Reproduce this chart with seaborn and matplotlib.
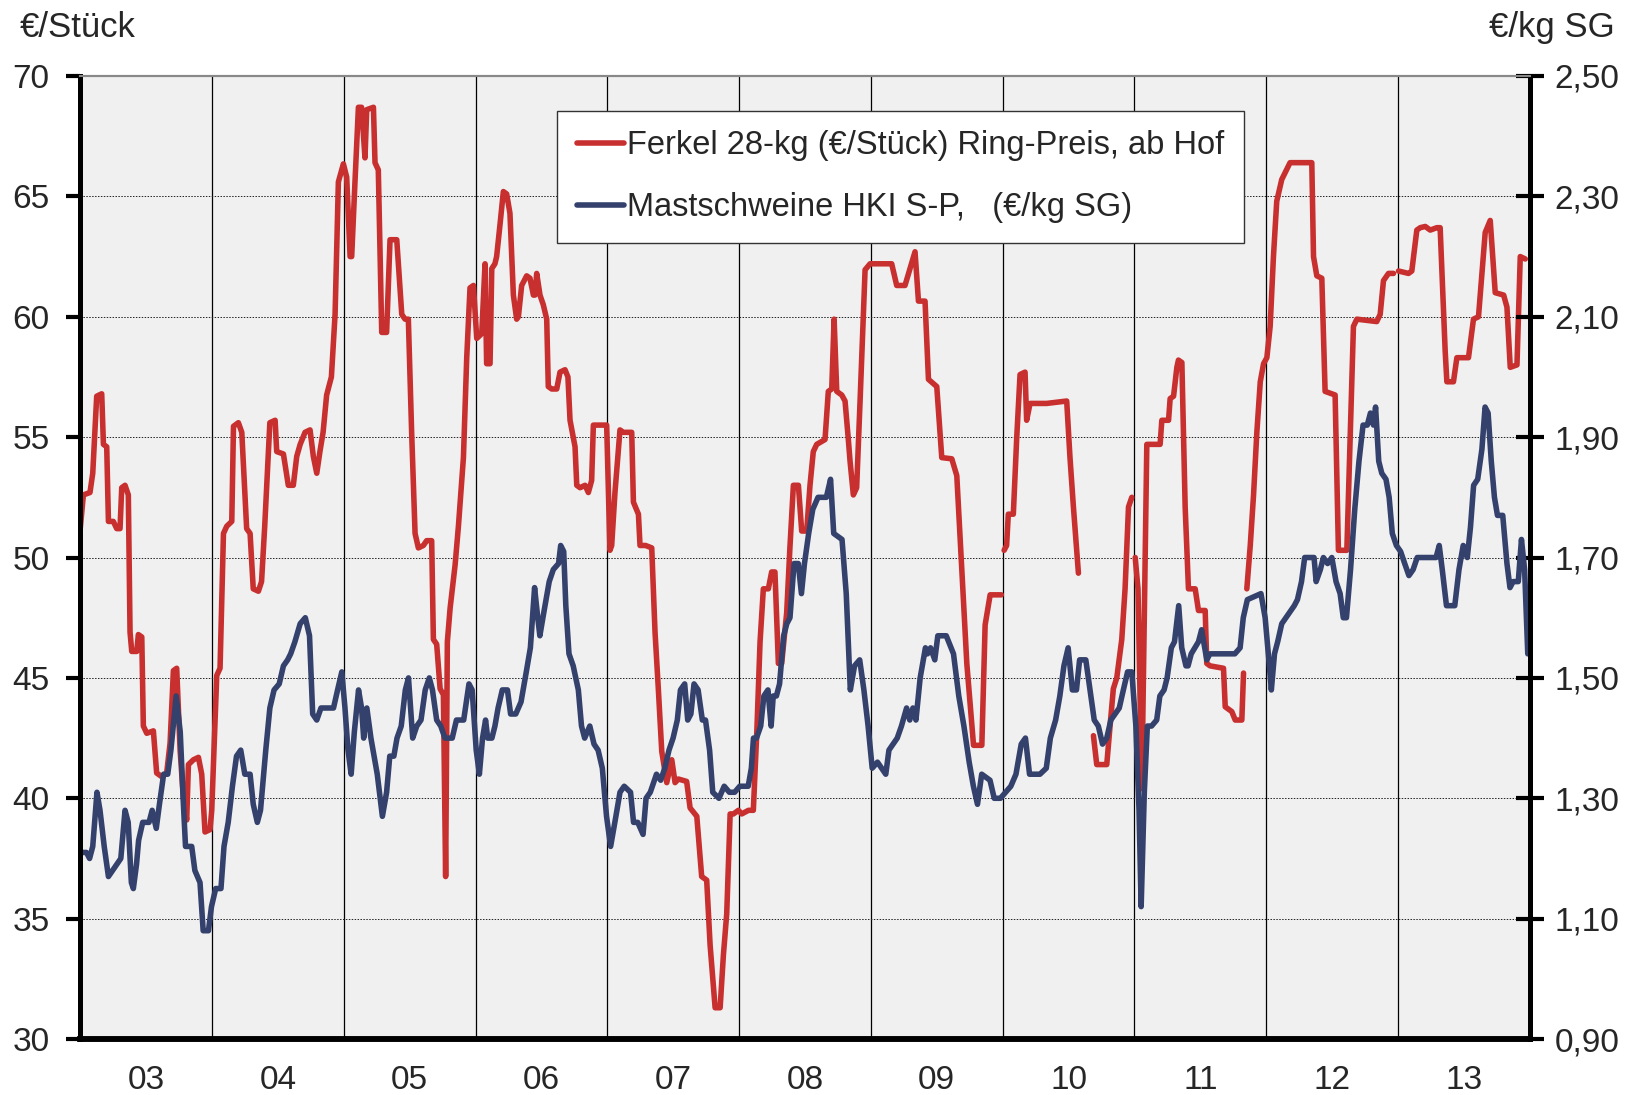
# -*- coding: utf-8 -*-
import numpy as np
import pandas as pd
import matplotlib
matplotlib.use("Agg")
import matplotlib.pyplot as plt
from matplotlib.ticker import FixedLocator, FuncFormatter
import seaborn as sns

sns.set_style("white")
plt.rcParams['font.family'] = ['Liberation Sans', 'DejaVu Sans']

START_JAHR = 2003
jahr_labels = ['03', '04', '05', '06', '07', '08', '09', '10', '11', '12', '13']
links_ticks = [30, 35, 40, 45, 50, 55, 60, 65, 70]
rechts_ticks = [0.9, 1.1, 1.3, 1.5, 1.7, 1.9, 2.1, 2.3, 2.5]

label_ferkel = 'Ferkel 28-kg (€/Stück) Ring-Preis, ab Hof'
label_mast = 'Mastschweine HKI S-P,   (€/kg SG)'

# Ferkel (€/Stück), Zeit in Jahren ab Anfang 2003, NaN = Lücke in der Linie
ferkel_t = [
    0.000, 0.024, 0.074, 0.095, 0.125, 0.163, 0.176, 0.201, 0.214, 0.251,
    0.277, 0.302, 0.315, 0.340, 0.365, 0.378, 0.391, 0.429, 0.441, 0.467,
    0.479, 0.505, 0.555, 0.580, 0.618, 0.656, 0.682, 0.707, 0.732, 0.758,
    0.783, 0.808, 0.821, 0.859, 0.897, 0.922, 0.947, 0.985, 0.998, 1.036,
    1.061, 1.087, 1.112, 1.150, 1.163, 1.200, 1.226, 1.263, 1.289, 1.313,
    1.352, 1.376, 1.400, 1.439, 1.479, 1.491, 1.542, 1.579, 1.617, 1.643,
    1.669, 1.706, 1.744, 1.769, 1.795, 1.819, 1.843, 1.870, 1.906, 1.934,
    1.959, 1.997, 2.022, 2.048, 2.060, 2.085, 2.111, 2.135, 2.161, 2.174,
    2.225, 2.237, 2.262, 2.288, 2.325, 2.351, 2.402, 2.440, 2.465, 2.490,
    2.515, 2.541, 2.566, 2.604, 2.629, 2.667, 2.680, 2.705, 2.731, 2.756,
    2.773, 2.786, 2.807, 2.845, 2.870, 2.908, 2.933, 2.958, 2.984, 3.009,
    3.047, 3.072, 3.084, 3.110, 3.123, 3.147, 3.160, 3.185, 3.211, 3.236,
    3.261, 3.287, 3.312, 3.325, 3.350, 3.388, 3.413, 3.439, 3.451, 3.464,
    3.489, 3.514, 3.540, 3.552, 3.578, 3.616, 3.641, 3.679, 3.701, 3.717,
    3.755, 3.768, 3.793, 3.831, 3.856, 3.881, 3.894, 3.970, 3.995, 4.020,
    4.033, 4.058, 4.096, 4.121, 4.185, 4.198, 4.236, 4.248, 4.290, 4.337,
    4.362, 4.387, 4.413, 4.451, 4.489, 4.514, 4.539, 4.602, 4.628, 4.679,
    4.716, 4.754, 4.780, 4.818, 4.856, 4.881, 4.906, 4.932, 4.957, 4.995,
    5.020, 5.071, 5.108, 5.134, 5.159, 5.184, 5.222, 5.247, 5.272, 5.298,
    5.323, 5.361, 5.386, 5.412, 5.450, 5.475, 5.513, 5.538, 5.563, 5.589,
    5.652, 5.677, 5.703, 5.721, 5.741, 5.779, 5.804, 5.829, 5.842, 5.867,
    5.892, 5.918, 5.956, 5.994, 6.158, 6.196, 6.259, 6.297, 6.335, 6.361,
    6.411, 6.437, 6.500, 6.538, 6.614, 6.652, 6.690, 6.728, 6.779, 6.842,
    6.867, 6.905, 6.990, np.nan,
    7.011, 7.030, 7.043, 7.081, 7.107, 7.132, 7.170, 7.182, 7.208, 7.334,
    7.486, 7.511, 7.537, 7.575, np.nan,
    7.689, 7.714, 7.790, 7.815, 7.840, 7.866, 7.904, 7.929, 7.955, 7.980,
    np.nan,
    8.006, 8.027, 8.056, 8.094, 8.195, 8.208, 8.259, 8.271, 8.297, 8.322,
    8.334, 8.360, 8.385, 8.410, 8.461, 8.486, 8.537, 8.549, 8.574, 8.676,
    8.689, 8.739, 8.765, 8.815, 8.828, np.nan,
    8.853, 8.879, 8.904, 8.929, 8.955, 8.980, 9.005, 9.030, 9.055, 9.080,
    9.118, 9.181, 9.346, 9.359, 9.384, 9.422, 9.447, 9.523, 9.548, 9.612,
    9.662, 9.688, 9.839, 9.865, 9.890, 9.928, 9.966, np.nan,
    10.004, 10.080, 10.105, 10.143, 10.169, 10.207, 10.245, 10.295, 10.320, 10.358,
    10.371, 10.421, 10.447, 10.535, 10.573, 10.611, 10.662, 10.700, 10.738, 10.802,
    10.827, 10.852, 10.903, 10.928, 10.966,
]
ferkel_preis = [
    51.2, 52.6, 52.7, 53.5, 56.7, 56.8, 54.7, 54.6, 51.5, 51.5,
    51.2, 51.2, 52.9, 53.0, 52.6, 46.9, 46.1, 46.1, 46.8, 46.7,
    43.0, 42.7, 42.8, 41.05, 40.9, 41.05, 42.3, 45.3, 45.4, 42.0,
    40.0, 39.1, 41.4, 41.6, 41.7, 41.0, 38.6, 38.7, 39.5, 45.1,
    45.4, 51.0, 51.3, 51.5, 55.45, 55.6, 55.2, 51.2, 51.0, 48.7,
    48.6, 49.0, 51.3, 55.6, 55.7, 54.4, 54.3, 53.0, 53.0, 54.2,
    54.7, 55.2, 55.3, 54.2, 53.5, 54.4, 55.2, 56.75, 57.5, 60.1,
    65.6, 66.35, 65.8, 62.5, 62.5, 65.6, 68.7, 68.7, 66.6, 68.6,
    68.7, 66.4, 66.1, 59.35, 59.35, 63.2, 63.2, 60.1, 59.9, 59.9,
    55.2, 51.0, 50.4, 50.5, 50.7, 50.7, 46.6, 46.4, 44.55, 44.3,
    36.75, 46.5, 47.9, 49.7, 51.3, 54.15, 58.3, 61.2, 61.3, 59.1,
    59.3, 62.2, 58.05, 58.05, 62.0, 62.2, 62.5, 63.8, 65.2, 65.1,
    64.3, 60.9, 59.9, 60.0, 61.3, 61.7, 61.6, 60.9, 60.9, 61.8,
    60.9, 60.5, 59.9, 57.1, 57.0, 57.0, 57.7, 57.8, 57.5, 55.7,
    54.6, 53.0, 52.9, 53.0, 52.7, 53.2, 55.5, 55.5, 55.5, 50.3,
    50.5, 52.7, 55.3, 55.2, 55.2, 52.3, 51.8, 50.5, 50.5, 50.4,
    46.9, 44.55, 41.95, 40.65, 41.6, 40.65, 40.8, 40.7, 39.6, 39.25,
    36.75, 36.6, 33.9, 31.3, 31.3, 33.5, 35.2, 39.35, 39.35, 39.5,
    39.35, 39.5, 39.5, 42.7, 46.5, 48.7, 48.7, 49.4, 49.4, 45.6,
    45.6, 47.7, 50.45, 53.0, 53.0, 51.1, 51.1, 53.0, 54.4, 54.7,
    54.9, 56.9, 57.0, 59.9, 56.9, 56.75, 56.5, 54.9, 54.0, 52.6,
    52.9, 56.5, 61.95, 62.2, 62.2, 61.3, 61.3, 62.0, 62.7, 60.65,
    60.65, 57.4, 57.1, 54.15, 54.1, 53.4, 49.5, 45.6, 42.2, 42.2,
    47.2, 48.45, 48.45, np.nan,
    50.3, 50.5, 51.8, 51.8, 55.0, 57.6, 57.7, 55.7, 56.4, 56.4,
    56.5, 54.15, 52.1, 49.35, np.nan,
    42.6, 41.4, 41.4, 43.0, 44.55, 45.0, 46.6, 48.7, 52.1, 52.5,
    np.nan,
    50.0, 48.7, 40.4, 54.7, 54.7, 55.7, 55.7, 56.6, 56.7, 57.9,
    58.2, 58.1, 52.1, 48.7, 48.7, 47.8, 47.8, 45.6, 45.5, 45.4,
    43.8, 43.6, 43.25, 43.25, 45.2, np.nan,
    48.7, 50.5, 52.6, 55.2, 57.3, 58.05, 58.3, 59.6, 62.5, 64.8,
    65.7, 66.4, 66.4, 62.5, 61.7, 61.6, 56.9, 56.75, 50.3, 50.3,
    59.6, 59.9, 59.8, 60.1, 61.5, 61.8, 61.8, np.nan,
    61.9, 61.8, 61.9, 63.6, 63.7, 63.75, 63.6, 63.7, 63.7, 58.6,
    57.3, 57.3, 58.3, 58.3, 59.9, 60.0, 63.5, 64.0, 61.0, 60.9,
    60.4, 57.9, 58.0, 62.5, 62.4,
]

# Mastschweine (€/kg SG)
mast_t = [
    0.000, 0.047, 0.071, 0.095, 0.127, 0.150, 0.182, 0.214, 0.245, 0.277,
    0.308, 0.340, 0.364, 0.388, 0.403, 0.427, 0.443, 0.474, 0.522, 0.546,
    0.577, 0.601, 0.633, 0.664, 0.688, 0.728, 0.759, 0.783, 0.799, 0.846,
    0.870, 0.909, 0.933, 0.973, 0.996, 1.028, 1.068, 1.091, 1.123, 1.155,
    1.186, 1.218, 1.249, 1.289, 1.313, 1.344, 1.368, 1.408, 1.439, 1.471,
    1.510, 1.542, 1.574, 1.597, 1.629, 1.669, 1.708, 1.740, 1.764, 1.795,
    1.827, 1.922, 1.953, 1.985, 2.009, 2.032, 2.056, 2.080, 2.112, 2.135,
    2.151, 2.175, 2.206, 2.254, 2.293, 2.325, 2.349, 2.380, 2.404, 2.436,
    2.467, 2.491, 2.523, 2.554, 2.586, 2.618, 2.649, 2.673, 2.705, 2.736,
    2.768, 2.792, 2.823, 2.855, 2.910, 2.950, 2.974, 3.005, 3.029, 3.053,
    3.076, 3.092, 3.124, 3.147, 3.171, 3.203, 3.242, 3.266, 3.305, 3.345,
    3.385, 3.416, 3.448, 3.472, 3.488, 3.519, 3.559, 3.590, 3.630, 3.646,
    3.669, 3.685, 3.709, 3.741, 3.780, 3.804, 3.828, 3.867, 3.899, 3.930,
    3.962, 3.994, 4.025, 4.065, 4.096, 4.128, 4.176, 4.199, 4.231, 4.271,
    4.294, 4.326, 4.373, 4.405, 4.436, 4.468, 4.499, 4.531, 4.555, 4.587,
    4.610, 4.634, 4.658, 4.689, 4.721, 4.745, 4.776, 4.800, 4.847, 4.887,
    4.926, 4.966, 5.005, 5.069, 5.093, 5.109, 5.132, 5.164, 5.188, 5.219,
    5.243, 5.259, 5.283, 5.307, 5.338, 5.362, 5.386, 5.417, 5.449, 5.473,
    5.496, 5.528, 5.559, 5.599, 5.662, 5.694, 5.718, 5.781, 5.813, 5.844,
    5.876, 5.915, 5.947, 5.979, 6.010, 6.050, 6.081, 6.113, 6.137, 6.168,
    6.200, 6.232, 6.271, 6.295, 6.319, 6.342, 6.374, 6.414, 6.430, 6.453,
    6.485, 6.508, 6.572, 6.627, 6.667, 6.706, 6.746, 6.778, 6.809, 6.841,
    6.904, 6.936, 6.983, 7.022, 7.062, 7.101, 7.141, 7.173, 7.204, 7.244,
    7.283, 7.331, 7.362, 7.402, 7.434, 7.465, 7.497, 7.529, 7.560, 7.584,
    7.631, 7.663, 7.695, 7.726, 7.758, 7.790, 7.821, 7.853, 7.885, 7.916,
    7.948, 7.980, 8.011, 8.035, 8.051, 8.075, 8.098, 8.130, 8.169, 8.193,
    8.225, 8.248, 8.280, 8.304, 8.336, 8.359, 8.391, 8.407, 8.431, 8.486,
    8.510, 8.533, 8.549, 8.573, 8.762, 8.802, 8.826, 8.857, 8.960, 8.992,
    9.024, 9.039, 9.063, 9.087, 9.118, 9.150, 9.182, 9.213, 9.237, 9.268,
    9.292, 9.363, 9.379, 9.411, 9.434, 9.466, 9.498, 9.530, 9.561, 9.585,
    9.609, 9.640, 9.672, 9.704, 9.735, 9.767, 9.791, 9.814, 9.830, 9.854,
    9.877, 9.909, 9.933, 9.957, 9.988, 10.020, 10.051, 10.083, 10.115, 10.146,
    10.210, 10.289, 10.313, 10.336, 10.368, 10.400, 10.431, 10.463, 10.495, 10.526,
    10.550, 10.574, 10.605, 10.637, 10.661, 10.684, 10.708, 10.732, 10.755, 10.795,
    10.827, 10.850, 10.874, 10.913, 10.937, 10.961, 10.985,
]
mast_preis = [
    1.21, 1.21, 1.20, 1.22, 1.31, 1.28, 1.22, 1.17, 1.18, 1.19,
    1.20, 1.28, 1.26, 1.16, 1.15, 1.19, 1.23, 1.26, 1.26, 1.28,
    1.25, 1.29, 1.34, 1.34, 1.38, 1.47, 1.41, 1.29, 1.22, 1.22,
    1.18, 1.16, 1.08, 1.08, 1.12, 1.15, 1.15, 1.22, 1.26, 1.32,
    1.37, 1.38, 1.34, 1.34, 1.29, 1.26, 1.28, 1.38, 1.45, 1.48,
    1.49, 1.52, 1.53, 1.54, 1.56, 1.59, 1.60, 1.57, 1.44, 1.43,
    1.45, 1.45, 1.48, 1.51, 1.45, 1.38, 1.34, 1.41, 1.48, 1.45,
    1.40, 1.45, 1.40, 1.34, 1.27, 1.31, 1.37, 1.37, 1.40, 1.42,
    1.48, 1.50, 1.40, 1.42, 1.43, 1.48, 1.50, 1.48, 1.43, 1.42,
    1.40, 1.40, 1.40, 1.43, 1.43, 1.49, 1.48, 1.38, 1.34, 1.40,
    1.43, 1.40, 1.40, 1.42, 1.45, 1.48, 1.48, 1.44, 1.44, 1.46,
    1.51, 1.55, 1.65, 1.60, 1.57, 1.61, 1.66, 1.68, 1.69, 1.72,
    1.71, 1.62, 1.54, 1.52, 1.48, 1.42, 1.40, 1.42, 1.39, 1.38,
    1.35, 1.27, 1.22, 1.27, 1.31, 1.32, 1.31, 1.26, 1.26, 1.24,
    1.30, 1.31, 1.34, 1.33, 1.35, 1.38, 1.40, 1.43, 1.48, 1.49,
    1.43, 1.44, 1.49, 1.48, 1.43, 1.43, 1.38, 1.31, 1.30, 1.32,
    1.31, 1.31, 1.32, 1.32, 1.35, 1.40, 1.40, 1.42, 1.47, 1.48,
    1.42, 1.47, 1.47, 1.49, 1.57, 1.59, 1.60, 1.69, 1.69, 1.64,
    1.69, 1.74, 1.78, 1.80, 1.80, 1.83, 1.74, 1.73, 1.64, 1.48,
    1.52, 1.53, 1.48, 1.42, 1.35, 1.36, 1.35, 1.34, 1.38, 1.39,
    1.40, 1.42, 1.45, 1.43, 1.45, 1.43, 1.50, 1.55, 1.54, 1.55,
    1.53, 1.57, 1.57, 1.54, 1.47, 1.42, 1.36, 1.32, 1.29, 1.34,
    1.33, 1.30, 1.30, 1.31, 1.32, 1.34, 1.39, 1.40, 1.34, 1.34,
    1.34, 1.35, 1.40, 1.43, 1.47, 1.52, 1.55, 1.48, 1.48, 1.53,
    1.53, 1.48, 1.43, 1.42, 1.39, 1.40, 1.43, 1.44, 1.45, 1.48,
    1.51, 1.51, 1.42, 1.28, 1.12, 1.31, 1.42, 1.42, 1.43, 1.47,
    1.48, 1.50, 1.55, 1.56, 1.62, 1.55, 1.52, 1.52, 1.54, 1.56,
    1.58, 1.55, 1.53, 1.54, 1.54, 1.55, 1.60, 1.63, 1.64, 1.60,
    1.52, 1.48, 1.54, 1.56, 1.59, 1.60, 1.61, 1.62, 1.63, 1.66,
    1.70, 1.70, 1.66, 1.68, 1.70, 1.69, 1.70, 1.66, 1.64, 1.60,
    1.60, 1.68, 1.78, 1.86, 1.92, 1.92, 1.94, 1.92, 1.95, 1.86,
    1.84, 1.83, 1.80, 1.74, 1.72, 1.71, 1.69, 1.67, 1.68, 1.70,
    1.70, 1.70, 1.72, 1.68, 1.62, 1.62, 1.62, 1.68, 1.72, 1.70,
    1.75, 1.82, 1.83, 1.88, 1.95, 1.94, 1.86, 1.80, 1.77, 1.77,
    1.69, 1.65, 1.66, 1.66, 1.73, 1.68, 1.54,
]

ROT = '#C8302F'
BLAU = '#33416C'
FS = 24


def make_df(t, werte):
    df = pd.DataFrame({'t': t, 'wert': werte})
    df['jahr'] = START_JAHR + df['t']
    # neue Abschnitt-Nummer nach jeder Lücke
    df['abschnitt'] = df['wert'].isna().cumsum()
    return df.dropna()


def main():
    df_ferkel = make_df(ferkel_t, ferkel_preis)
    df_mast = make_df(mast_t, mast_preis)

    fig = plt.figure(figsize=(16.34, 10.95), dpi=100)
    ax = fig.add_axes([0.0491, 0.0511, 0.8871, 0.8795])
    ax.set_facecolor('#F0F0F0')
    ax2 = ax.twinx()

    sns.lineplot(data=df_ferkel, x='jahr', y='wert', units='abschnitt',
                 estimator=None, color=ROT, lw=4.0, ax=ax, legend=False)
    sns.lineplot(data=df_mast, x='jahr', y='wert', units='abschnitt',
                 estimator=None, color=BLAU, lw=4.0, ax=ax2, legend=False)

    ax.set_xlim(START_JAHR, START_JAHR + len(jahr_labels))
    ax.set_ylim(30, 70)
    ax2.set_ylim(0.9, 2.5)
    ax.set_xlabel('')
    ax.set_ylabel('')
    ax2.set_ylabel('')

    # Jahresgrenzen als Gitter, Jahreslabels mittig
    grenzen = [START_JAHR + i for i in range(1, len(jahr_labels))]
    mitten = [START_JAHR + i + 0.5 for i in range(len(jahr_labels))]
    ax.xaxis.set_major_locator(FixedLocator(grenzen))
    ax.xaxis.set_minor_locator(FixedLocator(mitten))
    ax.set_xticklabels([], minor=False)
    ax.set_xticklabels(jahr_labels, minor=True)
    ax.tick_params(axis='x', which='both', length=0, labelsize=FS, pad=19)

    ax.set_yticks(links_ticks)
    ax.tick_params(axis='y', direction='out', length=10, width=3,
                   labelsize=FS, pad=12, color='black')
    ax2.set_yticks(rechts_ticks)
    ax2.yaxis.set_major_formatter(FuncFormatter(lambda v, p: f'{v:.2f}'.replace('.', ',')))
    ax2.tick_params(axis='y', direction='inout', length=20, width=3,
                    labelsize=FS, pad=8, color='black')

    ax.grid(axis='x', which='major', color='black', lw=0.9, ls='-')
    ax.grid(axis='y', color='#222222', lw=0.7, ls=(0, (1.5, 1.5)))
    ax.set_axisbelow(True)

    for a in (ax, ax2):
        a.spines['top'].set_color('#888888')
        a.spines['top'].set_linewidth(1.5)
        a.spines['left'].set_linewidth(3.5)
        a.spines['left'].set_color('black')
        a.spines['right'].set_linewidth(3.5)
        a.spines['right'].set_color('black')
        a.spines['bottom'].set_linewidth(4)
        a.spines['bottom'].set_color('black')

    fig.text(0.012, 0.966, '€/Stück', fontsize=FS + 1, ha='left', va='baseline')
    fig.text(0.988, 0.966, '€/kg SG', fontsize=FS + 1, ha='right', va='baseline')

    handles = [ax.get_lines()[0], ax2.get_lines()[0]]
    leg = ax2.legend(handles, [label_ferkel, label_mast],
                     loc='upper left', bbox_to_anchor=(0.329, 0.964),
                     borderaxespad=0, fontsize=23.5, frameon=True, fancybox=False,
                     framealpha=1, edgecolor='#333333', handlelength=1.45,
                     handletextpad=0.1, labelspacing=0.95, borderpad=0.6)
    leg.get_frame().set_linewidth(1.0)

    fig.savefig('out.png', dpi=100)


if __name__ == '__main__':
    main()
